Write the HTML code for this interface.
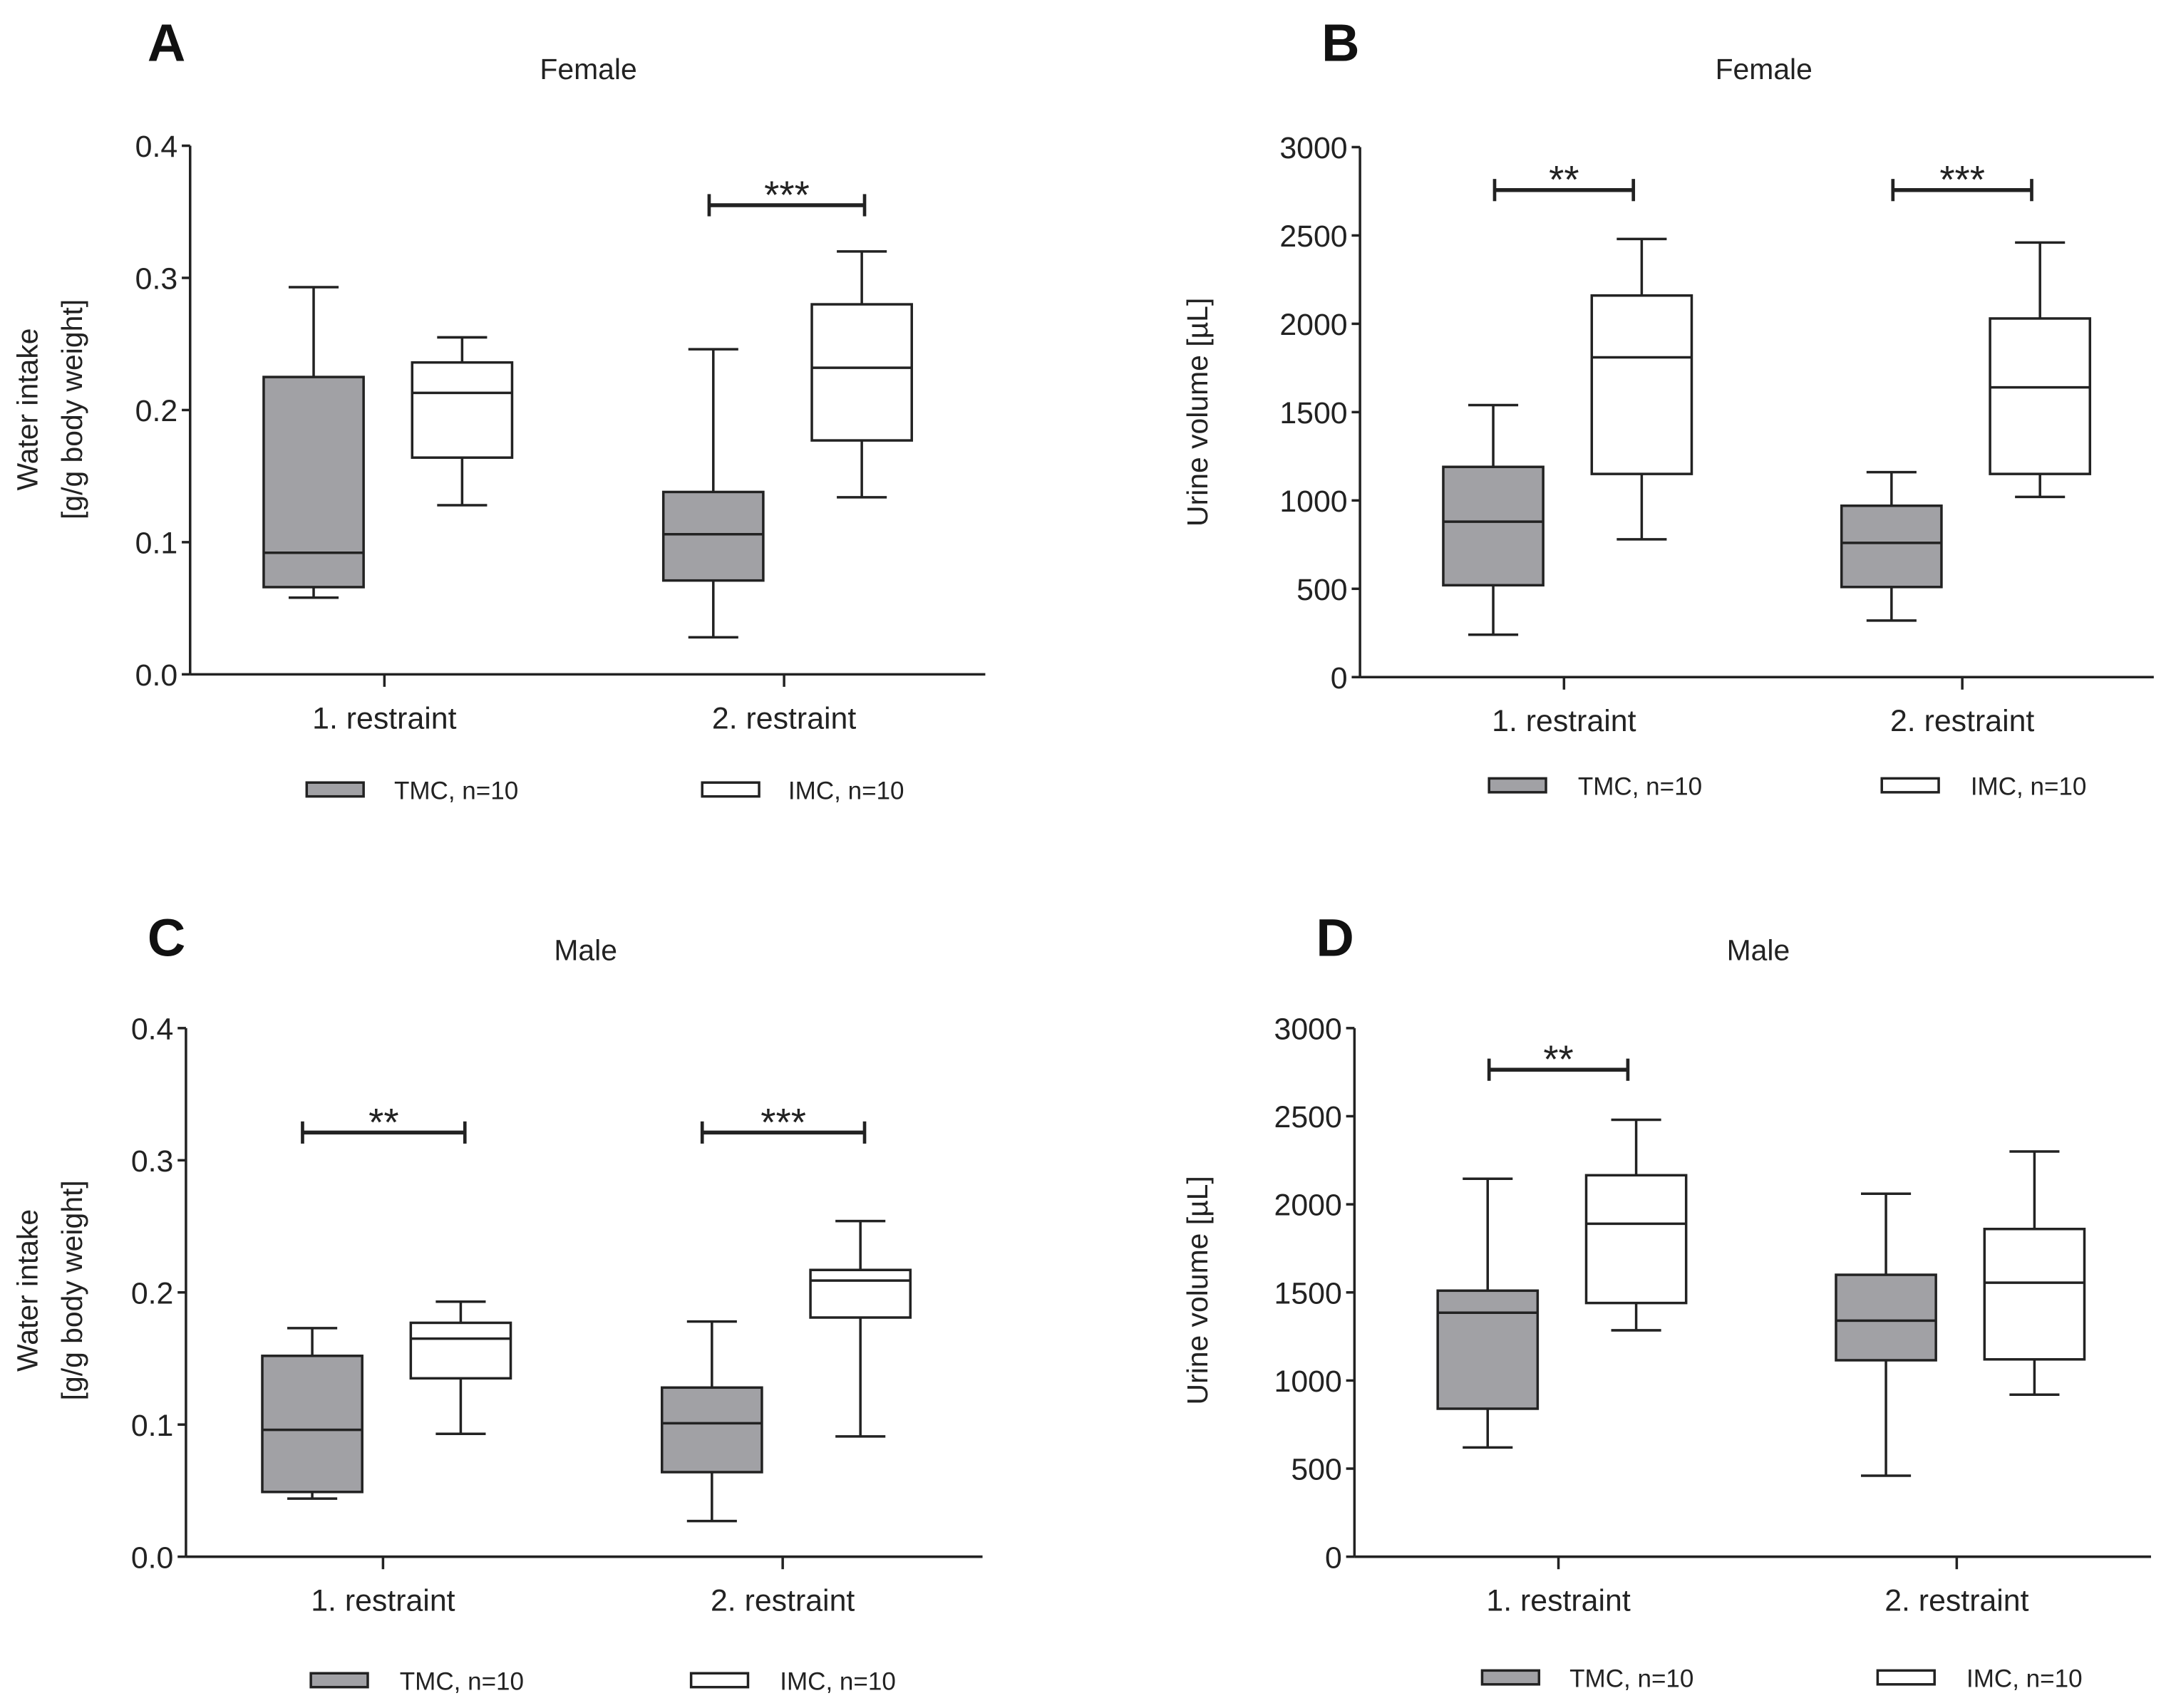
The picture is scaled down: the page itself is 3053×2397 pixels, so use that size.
<!DOCTYPE html>
<html><head><meta charset="utf-8"><style>
html,body{margin:0;padding:0;background:#fff;}
svg{display:block;font-family:"Liberation Sans",sans-serif;}
</style></head><body>
<svg id="fig" width="3053" height="2397" viewBox="0 0 1568 1231" xmlns="http://www.w3.org/2000/svg"></svg>
<script>
// Panel data: [whiskerLow, q1, median, q3, whiskerHigh]
const categories = ["1. restraint", "2. restraint"];
const seriesNames = ["TMC, n=10", "IMC, n=10"];
const aTMC = [[0.058,0.066,0.092,0.225,0.293],[0.028,0.071,0.106,0.138,0.246]];
const aIMC = [[0.128,0.164,0.213,0.236,0.255],[0.134,0.177,0.232,0.280,0.320]];
const bTMC = [[240,520,880,1190,1540],[320,510,760,970,1160]];
const bIMC = [[780,1150,1810,2160,2480],[1020,1150,1640,2030,2460]];
const cTMC = [[0.044,0.049,0.096,0.152,0.173],[0.027,0.064,0.101,0.128,0.178]];
const cIMC = [[0.093,0.135,0.165,0.177,0.193],[0.091,0.181,0.209,0.217,0.254]];
const dTMC = [[620,840,1385,1510,2145],[460,1115,1340,1600,2060]];
const dIMC = [[1285,1440,1890,2165,2480],[920,1120,1555,1860,2300]];
const wiTicks = ["0.0","0.1","0.2","0.3","0.4"];
const uvTicks = ["0","500","1000","1500","2000","2500","3000"];
const aSig = [{cat:1, label:"***", value:0.355}];
const bSig = [{cat:0, label:"**", value:2757},{cat:1, label:"***", value:2757}];
const cSig = [{cat:0, label:"**", value:0.321},{cat:1, label:"***", value:0.321}];
const dSig = [{cat:0, label:"**", value:2764}];

const NS="http://www.w3.org/2000/svg";
const svg=document.getElementById('fig');
function mk(tag,attrs,parent,text){const e=document.createElementNS(NS,tag);for(const k in attrs)e.setAttribute(k,attrs[k]);if(text!==undefined)e.textContent=text;(parent||svg).appendChild(e);return e;}

const panels=[
 {id:'a',letter:'A',title:'Female',lx:120,ly:44,tx:424,ty:57,ax:137,top:105,bot:486,xend:710,cats:[277,565],max:0.4,ticks:wiTicks,tmc:aTMC,imc:aIMC,sig:aSig,br:[-54,58],yt:['Water intake','[g/g body weight]'],ytx:[27,59],ytc:295,legY:569,leg:[221,284,506,568]},
 {id:'b',letter:'B',title:'Female',lx:966,ly:44,tx:1271,ty:57,ax:980,top:106,bot:488,xend:1552,cats:[1127,1414],max:3000,ticks:uvTicks,tmc:bTMC,imc:bIMC,sig:bSig,br:[-50,50],yt:['Urine volume [µL]'],ytx:[870],ytc:297,legY:566,leg:[1073,1137,1356,1420]},
 {id:'c',letter:'C',title:'Male',lx:120,ly:689,tx:422,ty:692,ax:134,top:741,bot:1122,xend:708,cats:[276,564],max:0.4,ticks:wiTicks,tmc:cTMC,imc:cIMC,sig:cSig,br:[-58,59],yt:['Water intake','[g/g body weight]'],ytx:[27,59],ytc:930,legY:1211,leg:[224,288,498,562]},
 {id:'d',letter:'D',title:'Male',lx:962,ly:689,tx:1267,ty:692,ax:976,top:741,bot:1122,xend:1550,cats:[1123,1410],max:3000,ticks:uvTicks,tmc:dTMC,imc:dIMC,sig:dSig,br:[-50,50],yt:['Urine volume [µL]'],ytx:[870],ytc:930,legY:1209,leg:[1068,1131,1353,1417]}
];

panels.forEach(p=>{
 const g=mk('g',{});
 
 
 const y=v=>p.bot-(v/p.max)*(p.bot-p.top);
 let t=mk('text',{x:p.lx,y:p.ly,'text-anchor':'middle','font-size':38,'font-weight':'bold',fill:'#111'},g,p.letter);
 
 
 t=mk('text',{x:p.tx,y:p.ty,'text-anchor':'middle','font-size':21,fill:'#222'},g,p.title);
 
 
 let l=mk('line',{x1:p.ax,y1:p.top,x2:p.ax,y2:p.bot,stroke:'#222','stroke-width':1.8},g);
 
 
 l=mk('line',{x1:p.ax,y1:p.bot,x2:p.xend,y2:p.bot,stroke:'#222','stroke-width':1.8},g);
 
 
 p.ticks.forEach((lab,i)=>{
  const v=i*p.max/(p.ticks.length-1);
  mk('line',{x1:p.ax-6,y1:y(v),x2:p.ax,y2:y(v),stroke:'#222','stroke-width':1.8},g);
  const tt=mk('text',{x:p.ax-9,y:y(v)+8,'text-anchor':'end','font-size':22,fill:'#222'},g,lab);
  
  
 });
 p.yt.forEach((s,i)=>{
  const tt=mk('text',{x:p.ytx[i],y:p.ytc,'text-anchor':'middle','font-size':21,fill:'#222',transform:`rotate(-90 ${p.ytx[i]} ${p.ytc})`},g,s);
  
  
 });
 categories.forEach((c,ci)=>{
  const cx=p.cats[ci];
  mk('line',{x1:cx,y1:p.bot,x2:cx,y2:p.bot+9,stroke:'#222','stroke-width':1.8},g);
  const tt=mk('text',{x:cx,y:p.bot+39,'text-anchor':'middle','font-size':22,fill:'#222'},g,c);
  
  
  [[p.tmc[ci],-51,'#a1a1a5','tmc'],[p.imc[ci],56,'#ffffff','imc']].forEach(([d,off,fill,nm])=>{
   const bx=cx+off, w=72, cw=18;
   const bg=mk('g',{},g);
   
   
   mk('line',{x1:bx,y1:y(d[0]),x2:bx,y2:y(d[1]),stroke:'#222','stroke-width':1.8},bg);
   mk('line',{x1:bx,y1:y(d[3]),x2:bx,y2:y(d[4]),stroke:'#222','stroke-width':1.8},bg);
   mk('line',{x1:bx-cw,y1:y(d[0]),x2:bx+cw,y2:y(d[0]),stroke:'#222','stroke-width':1.8},bg);
   mk('line',{x1:bx-cw,y1:y(d[4]),x2:bx+cw,y2:y(d[4]),stroke:'#222','stroke-width':1.8},bg);
   mk('rect',{x:bx-w/2,y:y(d[3]),width:w,height:y(d[1])-y(d[3]),fill:fill,stroke:'#222','stroke-width':1.8},bg);
   mk('line',{x1:bx-w/2,y1:y(d[2]),x2:bx+w/2,y2:y(d[2]),stroke:'#222','stroke-width':1.8},bg);
  });
 });
 p.sig.forEach(s=>{
  const cx=p.cats[s.cat], x1=cx+p.br[0], x2=cx+p.br[1];
  const yy=y(s.value);
  const sg=mk('g',{},g);
  
  
  mk('line',{x1:x1,y1:yy,x2:x2,y2:yy,stroke:'#222','stroke-width':2.8},sg);
  mk('line',{x1:x1,y1:yy-8,x2:x1,y2:yy+8,stroke:'#222','stroke-width':2.4},sg);
  mk('line',{x1:x2,y1:yy-8,x2:x2,y2:yy+8,stroke:'#222','stroke-width':2.4},sg);
  mk('text',{x:(x1+x2)/2,y:yy+2,'text-anchor':'middle','font-size':28,fill:'#222'},sg,s.label);
 });
 [[p.leg[0],p.leg[1],'#a1a1a5',0],[p.leg[2],p.leg[3],'#ffffff',1]].forEach(([rx,tx,fill,i])=>{
  const lg=mk('g',{},g);
  
  
  mk('rect',{x:rx,y:p.legY-5,width:41,height:10,fill:fill,stroke:'#222','stroke-width':1.8},lg);
  mk('text',{x:tx,y:p.legY+7,'font-size':18,fill:'#222'},lg,seriesNames[i]);
 });
});
</script>
</body></html>
